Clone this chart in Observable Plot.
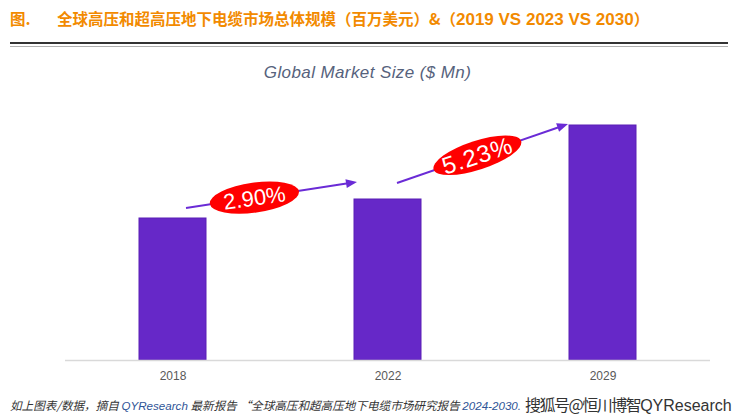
<!DOCTYPE html>
<html><head><meta charset="utf-8">
<script src="https://cdn.jsdelivr.net/npm/d3@7"></script>
<script src="https://cdn.jsdelivr.net/npm/@observablehq/plot@0.6"></script>
<style>
body{margin:0;background:#fff;}
#wrap{position:relative;width:751px;height:420px;overflow:hidden;font-family:"Noto Sans CJK SC",sans-serif;background:#fff;}
#title{position:absolute;left:10px;top:7px;font-size:15.5px;font-weight:bold;color:#F28A00;white-space:nowrap;line-height:22px;}
#title .fig{display:inline-block;width:47px;}
#title .num{font-family:"Liberation Sans Narrow","Liberation Sans",sans-serif;font-size:17px;}
#line1{position:absolute;left:10px;top:42px;width:718px;height:2px;background:#333;}
#line2{position:absolute;left:10px;top:46px;width:718px;height:1px;background:#b0b0b0;}
#ctitle{position:absolute;left:0;width:735px;top:63px;text-align:center;font-family:"Liberation Sans",sans-serif;font-style:italic;font-size:17px;color:#56627c;letter-spacing:0.4px;}
#chart{position:absolute;left:0;top:50px;}
#foot{position:absolute;left:10px;top:396px;font-size:11.6px;font-style:italic;color:#333;white-space:nowrap;line-height:18px;}
#foot .b{color:#2f5597;font-family:"Liberation Sans",sans-serif;}
#wm{position:absolute;left:525px;top:393px;font-size:16px;color:#333;white-space:nowrap;line-height:22px;text-shadow:0 0 2px #fff;}
#wm .cj{letter-spacing:-1.5px;}
#wm .en{font-family:"Liberation Sans",sans-serif;font-size:16px;}
</style>
</head><body>
<div id="wrap">
  <div id="title"><span class="fig">图.</span>全球高压和超高压地下电缆市场总体规模（百万美元）&amp;（<span class="num">2019 VS 2023 VS 2030</span>）</div>
  <div id="line1"></div><div id="line2"></div>
  <div id="ctitle">Global Market Size ($ Mn)</div>
  <div id="chart"></div>
  <div id="foot">如上图表/数据，摘自 <span class="b">QYResearch</span> 最新报告 “全球高压和超高压地下电缆市场研究报告 <span class="b">2024-2030.</span></div>
  <div id="wm"><span class="cj">搜狐号@恒川博智</span><span class="en">QYResearch</span></div>
</div>
<script>
const years = ["2018", "2022", "2029"];
const sizes = [1420, 1610, 2350];
const cagrLabels = ["2.90%", "5.23%"];

const data = years.map((y, i) => ({year: y, value: sizes[i]}));

const plot = Plot.plot({
  width: 751, height: 340,
  marginLeft: 65, marginRight: 41, marginTop: 60, marginBottom: 30,
  x: {domain: years, paddingInner: 0.69, paddingOuter: 0.345, label: null, tickSize: 0, tickPadding: 11},
  y: {domain: [0, 2500], axis: null},
  style: {fontFamily: "Liberation Sans, Arial, sans-serif", fontSize: "12px", color: "#595959", background: "transparent"},
  marks: [
    Plot.barY(data, {x: "year", y: "value", fill: "#6628C8", stroke: "#5a1fb6", strokeWidth: 1}),
    Plot.ruleY([0], {stroke: "#d9d9d9", strokeWidth: 1.5})
  ]
});
document.getElementById("chart").appendChild(plot);

// CAGR annotations positioned from the plot's own scales
const xs = plot.scale("x"), ys = plot.scale("y");
const bandCenter = y => xs.apply(y) + xs.bandwidth / 2;
const barTop = v => ys.apply(v);
const svg = d3.select(plot);
const layout = [
  {s: [13.5, -10], e: [-30.5, -17], t: 0.40, rot: -8, rx: 45, ry: 15, fs: 22},
  {s: [9.5, -16], e: [-34.5, -1], t: 0.47, rot: -18, rx: 46, ry: 14.5, fs: 24}
];
cagrLabels.forEach((lab, i) => {
  const L = layout[i];
  const x1 = bandCenter(years[i]) + L.s[0], y1 = barTop(sizes[i]) + L.s[1];
  const x2 = bandCenter(years[i + 1]) + L.e[0], y2 = barTop(sizes[i + 1]) + L.e[1];
  const dx = x2 - x1, dy = y2 - y1, len = Math.hypot(dx, dy);
  const ux = dx / len, uy = dy / len;
  const hl = 11, hw = 4.5;
  const bx = x2 - ux * hl, by = y2 - uy * hl;
  svg.append("line").attr("x1", x1).attr("y1", y1).attr("x2", bx + ux * 2).attr("y2", by + uy * 2)
    .attr("stroke", "#6A2BD6").attr("stroke-width", 2);
  svg.append("polygon")
    .attr("points", `${x2},${y2} ${bx - uy * hw},${by + ux * hw} ${bx + uy * hw},${by - ux * hw}`)
    .attr("fill", "#6A2BD6");
  const ex = x1 + dx * L.t, ey = y1 + dy * L.t;
  const g = svg.append("g").attr("transform", `translate(${ex},${ey}) rotate(${L.rot})`);
  g.append("ellipse").attr("rx", L.rx).attr("ry", L.ry).attr("fill", "#FF0000");
  g.append("text").text(lab).attr("text-anchor", "middle").attr("dy", "0.36em")
    .attr("fill", "#fff").attr("font-family", "Liberation Sans, Arial, sans-serif")
    .attr("font-size", L.fs).attr("letter-spacing", i ? 1 : 0);
});
</script>
</body></html>
